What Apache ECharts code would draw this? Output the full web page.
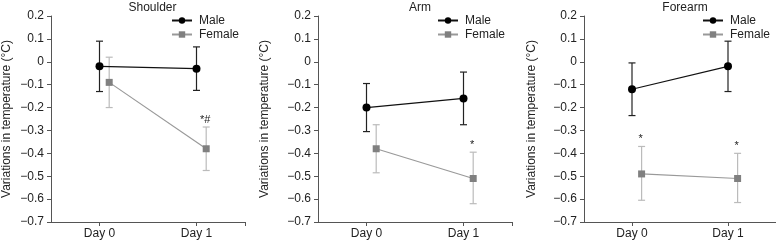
<!DOCTYPE html>
<html>
<head>
<meta charset="utf-8">
<script src="https://cdn.jsdelivr.net/npm/echarts@6/dist/echarts.min.js"></script>
<style>
  html, body { margin: 0; padding: 0; background: #fff; }
  #chart { width: 776px; height: 244px; }
</style>
</head>
<body>
<div id="chart"></div>
<script>
// panels and days
const panels = ['Shoulder', 'Arm', 'Forearm'];
const days = ['Day 0', 'Day 1'];
const femaleShift = 0.1; // female points drawn slightly right of the day

// mean values per panel [Day 0, Day 1]
const maleMean = [[-0.02, -0.03], [-0.20, -0.16], [-0.12, -0.02]];
const maleLow = [[-0.13, -0.125], [-0.305, -0.275], [-0.235, -0.13]];
const maleHigh = [[0.09, 0.065], [-0.095, -0.045], [-0.005, 0.09]];

const femaleMean = [[-0.09, -0.38], [-0.38, -0.51], [-0.49, -0.51]];
const femaleLow = [[-0.20, -0.475], [-0.485, -0.62], [-0.605, -0.615]];
const femaleHigh = [[0.02, -0.285], [-0.275, -0.395], [-0.37, -0.40]];

// significance marks above female error bars
const femaleMarks = [['', '*#'], ['', '*'], ['*', '*']];

const yTicks = [0.2, 0.1, 0, -0.1, -0.2, -0.3, -0.4, -0.5, -0.6, -0.7];

const gridPos = [
  { left: 50, width: 195 },
  { left: 318, width: 194 },
  { left: 584, width: 192 }
];
const legendPos = [171, 437, 702];
const nameGaps = [38, 47, 46];

const fmt = v => {
  const r = Math.round(v * 10) / 10;
  if (r === 0) return '0';
  return (r < 0 ? '\u2212' : '') + Math.abs(r).toFixed(1);
};

const font = 'Liberation Sans, Arial, sans-serif';

const errorBars = (color) => (params, api) => {
  const x = api.value(0);
  const lo = api.coord([x, api.value(1)]);
  const hi = api.coord([x, api.value(2)]);
  const cap = 3.5;
  const style = { stroke: color, lineWidth: 1.2 };
  const children = [
    { type: 'line', shape: { x1: lo[0], y1: lo[1], x2: hi[0], y2: hi[1] }, style },
    { type: 'line', shape: { x1: lo[0] - cap, y1: lo[1], x2: lo[0] + cap, y2: lo[1] }, style },
    { type: 'line', shape: { x1: hi[0] - cap, y1: hi[1], x2: hi[0] + cap, y2: hi[1] }, style }
  ];
  const mark = api.value(3);
  if (mark) {
    children.push({
      type: 'text',
      style: {
        text: mark, x: hi[0] - 1, y: hi[1] - 2,
        textAlign: 'center', textVerticalAlign: 'bottom',
        font: '11px ' + font, fill: '#222'
      }
    });
  }
  return { type: 'group', children };
};

const option = {
  animation: false,
  title: [],
  legend: [],
  grid: [],
  xAxis: [],
  yAxis: [],
  series: []
};

panels.forEach((name, i) => {
  const g = gridPos[i];
  option.title.push({
    text: name,
    left: g.left + g.width / 2,
    top: -3,
    textAlign: 'center',
    textStyle: { fontSize: 12, fontWeight: 'normal', color: '#222', fontFamily: font }
  });
  option.legend.push({
    orient: 'vertical',
    left: legendPos[i],
    top: 14,
    padding: 0,
    itemWidth: 20,
    itemHeight: 8,
    itemGap: 1,
    data: ['Male', 'Female'],
    selectedMode: false,
    textStyle: { fontSize: 12, lineHeight: 13, color: '#222', fontFamily: font, padding: [0, 0, 0, 2] }
  });
  option.grid.push({ left: g.left, width: g.width, top: 16, height: 206 });
  option.xAxis.push({
    type: 'value',
    gridIndex: i,
    min: -0.5,
    max: 1.5,
    splitLine: { show: false },
    axisLine: { onZero: false, lineStyle: { color: '#555', width: 1 } },
    axisTick: { show: true, length: 4, inside: false, customValues: [0, 1, 1.5], lineStyle: { color: '#555' } },
    axisLabel: {
      customValues: [0, 1],
      formatter: v => days[Math.round(v)],
      fontSize: 12, color: '#222', fontFamily: font, margin: 6
    }
  });
  option.yAxis.push({
    type: 'value',
    gridIndex: i,
    min: -0.7,
    max: 0.2,
    name: 'Variations in temperature (\u00b0C)',
    nameLocation: 'middle',
    nameGap: nameGaps[i],
    nameTextStyle: { fontSize: 12, color: '#222', fontFamily: font },
    splitLine: { show: false },
    axisLine: { show: true, onZero: false, lineStyle: { color: '#555', width: 1 } },
    axisTick: { show: true, length: 4, customValues: yTicks, lineStyle: { color: '#555' } },
    axisLabel: { customValues: yTicks, formatter: fmt, fontSize: 12, color: '#222', fontFamily: font, margin: 7 }
  });

  option.series.push({
    type: 'custom',
    xAxisIndex: i, yAxisIndex: i,
    renderItem: errorBars('#bbbbbb'),
    data: days.map((d, k) => [k + femaleShift, femaleLow[i][k], femaleHigh[i][k], femaleMarks[i][k]]),
    z: 1
  });
  option.series.push({
    type: 'custom',
    xAxisIndex: i, yAxisIndex: i,
    renderItem: errorBars('#222222'),
    data: days.map((d, k) => [k, maleLow[i][k], maleHigh[i][k], '']),
    z: 2
  });
  option.series.push({
    name: 'Female',
    type: 'line',
    xAxisIndex: i, yAxisIndex: i,
    symbol: 'rect',
    symbolSize: 7,
    itemStyle: { color: '#808080' },
    lineStyle: { color: '#999999', width: 1.2 },
    data: days.map((d, k) => [k + femaleShift, femaleMean[i][k]]),
    z: 3
  });
  option.series.push({
    name: 'Male',
    type: 'line',
    xAxisIndex: i, yAxisIndex: i,
    symbol: 'circle',
    symbolSize: 8,
    itemStyle: { color: '#000' },
    lineStyle: { color: '#111', width: 1.2 },
    data: days.map((d, k) => [k, maleMean[i][k]]),
    z: 4
  });
});

const chart = echarts.init(document.getElementById('chart'));
chart.setOption(option);
</script>
</body>
</html>
